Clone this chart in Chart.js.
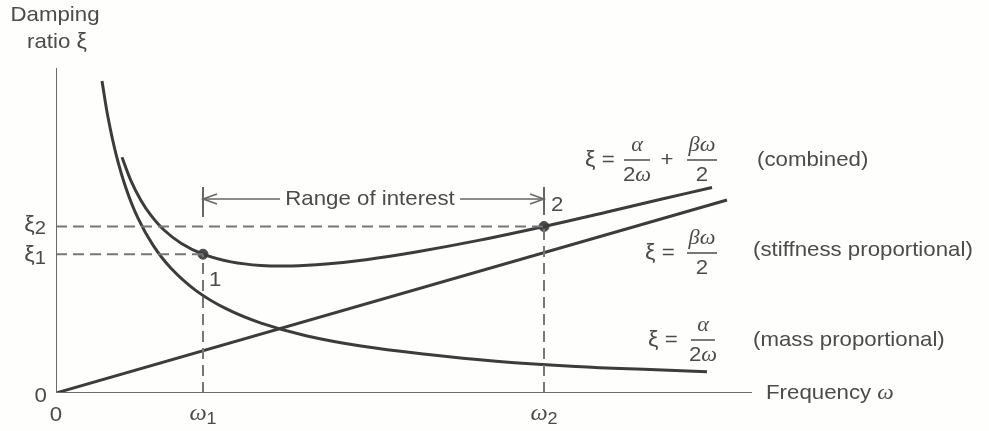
<!DOCTYPE html>
<html>
<head>
<meta charset="utf-8">
<script src="https://cdn.jsdelivr.net/npm/chart.js@4/dist/chart.umd.min.js"></script>
<style>
  html, body { margin: 0; padding: 0; background: #fefefc; }
  #wrap { width: 989px; height: 431px; }
</style>
</head>
<body>
<div id="wrap"><canvas id="damping" width="989" height="431"></canvas></div>
<script>
// Rayleigh damping: mass-proportional, stiffness-proportional and combined curves
const massX = [0.46, 0.52, 0.60, 0.70, 0.82, 0.97, 1.15, 1.40, 1.70, 2.05, 2.50, 3.05, 3.70, 4.40, 5.20, 6.00, 6.51];
const massY = [3.120, 2.757, 2.389, 2.048, 1.748, 1.478, 1.247, 1.024, 0.843, 0.699, 0.573, 0.470, 0.387, 0.318, 0.265, 0.232, 0.212];

const stiffX = [0, 6.71];
const stiffY = [0, 1.93];

const combX = [0.66, 0.75, 0.85, 0.95, 1.08, 1.25, 1.47, 1.75, 2.05, 2.35, 2.70, 3.10, 3.60, 4.20, 4.88, 5.50, 6.05, 6.56];
const combY = [2.357, 2.122, 1.926, 1.776, 1.630, 1.498, 1.388, 1.311, 1.275, 1.270, 1.290, 1.333, 1.410, 1.521, 1.665, 1.807, 1.937, 2.055];

// the two chosen frequencies and their damping ratios
const omegaPts = [1.47, 4.88];
const xiPts = [1.388, 1.665];

// range-of-interest bracket
const rangeY = 1.94;
const bracketY = [1.76, 2.06];
const rangeGap = [2.24, 4.04];

const axisEnd = { x: 6.96, y: 3.25 };

const ink = '#3c3c3c';
const grey = '#5a5a5a';
const textCol = '#4b4b4b';

const zip = (xs, ys) => xs.map((x, i) => ({ x: x, y: ys[i] }));

function seg(points, opts) {
    return Object.assign({
        data: points,
        showLine: true,
        pointRadius: 0,
        borderColor: grey,
        borderWidth: 2,
        fill: false
    }, opts || {});
}

const datasets = [
    // axes
    seg([{ x: 0, y: 0 }, { x: 0, y: axisEnd.y }], { borderColor: '#6a6a6a' }),
    seg([{ x: 0, y: 0 }, { x: axisEnd.x, y: 0 }], { borderColor: '#6a6a6a' }),
    // dashed guides
    seg([{ x: 0, y: xiPts[1] }, { x: omegaPts[1], y: xiPts[1] }], { borderDash: [11, 6], borderColor: '#777' }),
    seg([{ x: 0, y: xiPts[0] }, { x: omegaPts[0], y: xiPts[0] }], { borderDash: [11, 6], borderColor: '#777' }),
    seg([{ x: omegaPts[0], y: 0 }, { x: omegaPts[0], y: xiPts[0] }], { borderDash: [11, 6], borderColor: '#777' }),
    seg([{ x: omegaPts[1], y: 0 }, { x: omegaPts[1], y: xiPts[1] }], { borderDash: [11, 6], borderColor: '#777' }),
    // range bracket
    seg([{ x: omegaPts[0], y: bracketY[0] }, { x: omegaPts[0], y: bracketY[1] }], { borderColor: '#666' }),
    seg([{ x: omegaPts[1], y: bracketY[0] + 0.02 }, { x: omegaPts[1], y: bracketY[1] }], { borderColor: '#666' }),
    seg([{ x: omegaPts[0], y: rangeY }, { x: rangeGap[0], y: rangeY }], { borderColor: '#666', borderWidth: 1.5 }),
    seg([{ x: rangeGap[1], y: rangeY }, { x: omegaPts[1], y: rangeY }], { borderColor: '#666', borderWidth: 1.5 }),
    seg([{ x: omegaPts[0] + 0.14, y: rangeY + 0.05 }, { x: omegaPts[0], y: rangeY }, { x: omegaPts[0] + 0.14, y: rangeY - 0.05 }], { borderColor: '#666', borderWidth: 1.5 }),
    seg([{ x: omegaPts[1] - 0.14, y: rangeY + 0.05 }, { x: omegaPts[1], y: rangeY }, { x: omegaPts[1] - 0.14, y: rangeY - 0.05 }], { borderColor: '#666', borderWidth: 1.5 }),
    // curves
    seg(zip(massX, massY), { borderColor: ink, borderWidth: 3, tension: 0.4 }),
    seg(zip(stiffX, stiffY), { borderColor: ink, borderWidth: 3 }),
    seg(zip(combX, combY), { borderColor: ink, borderWidth: 3, tension: 0.4 }),
    // points 1 and 2
    {
        data: zip(omegaPts, xiPts),
        showLine: false,
        pointRadius: 5,
        pointBackgroundColor: '#4a4a4a',
        pointBorderColor: '#4a4a4a'
    }
];

const SANS = '"Liberation Sans", Arial, sans-serif';
const SERIF = '"Liberation Serif", "Times New Roman", serif';
const F = 21;
const sans = (s) => `${s || F}px ${SANS}`;
const greek = (s) => `italic ${s || F}px ${SERIF}`;
const STRETCH = 1.06;

// draw a row of text runs, each with its own font
function runs(ctx, parts, x, y, align) {
    ctx.save();
    ctx.textBaseline = 'middle';
    let total = 0;
    const widths = parts.map(p => {
        ctx.font = p[1];
        const w = ctx.measureText(p[0]).width * STRETCH;
        total += w;
        return w;
    });
    let cx = x;
    if (align === 'center') cx = x - total / 2;
    else if (align === 'right') cx = x - total;
    parts.forEach((p, i) => {
        ctx.save();
        ctx.translate(cx, y + (p[2] || 0));
        ctx.scale(STRETCH, 1);
        ctx.font = p[1];
        ctx.textAlign = 'left';
        ctx.fillText(p[0], 0, 0);
        ctx.restore();
        cx += widths[i];
    });
    ctx.restore();
}

function frac(ctx, num, den, cx, cy, w) {
    ctx.save();
    ctx.strokeStyle = textCol;
    ctx.lineWidth = 1.5;
    ctx.beginPath();
    ctx.moveTo(cx - w / 2, cy);
    ctx.lineTo(cx + w / 2, cy);
    ctx.stroke();
    ctx.restore();
    runs(ctx, num, cx, cy - 15, 'center');
    runs(ctx, den, cx, cy + 15, 'center');
}

const labels = {
    id: 'labels',
    afterDraw(chart) {
        const ctx = chart.ctx;
        const xs = chart.scales.x, ys = chart.scales.y;
        const X = v => xs.getPixelForValue(v);
        const Y = v => ys.getPixelForValue(v);
        ctx.save();
        ctx.fillStyle = textCol;

        // axis titles
        runs(ctx, [['Damping', sans()]], 55, 15, 'center');
        runs(ctx, [['ratio ', sans()], ['ξ', sans(22)]], 57, 42, 'center');
        runs(ctx, [['Frequency ', sans()], ['ω', greek(22)]], X(axisEnd.x) + 14, Y(0), 'left');

        // origin and tick labels
        runs(ctx, [['0', sans()]], X(0) - 9, Y(0) + 3, 'right');
        runs(ctx, [['0', sans()]], X(0), Y(0) + 22, 'center');
        runs(ctx, [['ω', greek(23)], ['1', sans(17), 5]], X(omegaPts[0]), Y(0) + 21, 'center');
        runs(ctx, [['ω', greek(23)], ['2', sans(17), 5]], X(omegaPts[1]), Y(0) + 21, 'center');
        runs(ctx, [['ξ', sans(22)], ['2', sans(19), 4]], X(0) - 10, Y(xiPts[1]) - 2, 'right');
        runs(ctx, [['ξ', sans(22)], ['1', sans(19), 4]], X(0) - 10, Y(xiPts[0]) + 1, 'right');

        // point numbers
        runs(ctx, [['1', sans()]], X(omegaPts[0]) + 6, Y(xiPts[0]) + 26, 'left');
        runs(ctx, [['2', sans()]], X(omegaPts[1]) + 7, Y(xiPts[1]) - 21, 'left');

        // range of interest
        runs(ctx, [['Range of interest', sans()]], (X(rangeGap[0]) + X(rangeGap[1])) / 2, Y(rangeY), 'center');

        // combined
        let cy = Y(2.33);
        runs(ctx, [['ξ', sans(22)], [' =', sans()]], X(5.29), cy, 'left');
        frac(ctx, [['α', greek()]], [['2', sans()], ['ω', greek()]], X(5.81), cy, 26);
        runs(ctx, [['+', sans()]], X(6.11), cy, 'center');
        frac(ctx, [['β', greek()], ['ω', greek()]], [['2', sans()]], X(6.46), cy, 30);
        runs(ctx, [['(combined)', sans()]], X(7.01), cy, 'left');

        // stiffness proportional
        cy = Y(1.40);
        runs(ctx, [['ξ', sans(22)], [' =', sans()]], X(5.89), cy, 'left');
        frac(ctx, [['β', greek()], ['ω', greek()]], [['2', sans()]], X(6.46), cy, 30);
        runs(ctx, [['(stiffness proportional)', sans()]], X(6.97), cy - 3, 'left');

        // mass proportional
        cy = Y(0.53);
        runs(ctx, [['ξ', sans(22)], [' =', sans()]], X(5.92), cy, 'left');
        frac(ctx, [['α', greek()]], [['2', sans()], ['ω', greek()]], X(6.47), cy, 24);
        runs(ctx, [['(mass proportional)', sans()]], X(6.97), cy, 'left');

        ctx.restore();
    }
};

new Chart(document.getElementById('damping').getContext('2d'), {
    type: 'scatter',
    data: { datasets: datasets },
    options: {
        responsive: false,
        animation: false,
        layout: { padding: { left: 56, right: 233, top: 63, bottom: 38 } },
        plugins: {
            legend: { display: false },
            tooltip: { enabled: false }
        },
        scales: {
            x: { type: 'linear', min: 0, max: 7, display: false },
            y: { type: 'linear', min: 0, max: 3.3, display: false }
        }
    },
    plugins: [labels]
});
</script>
</body>
</html>
